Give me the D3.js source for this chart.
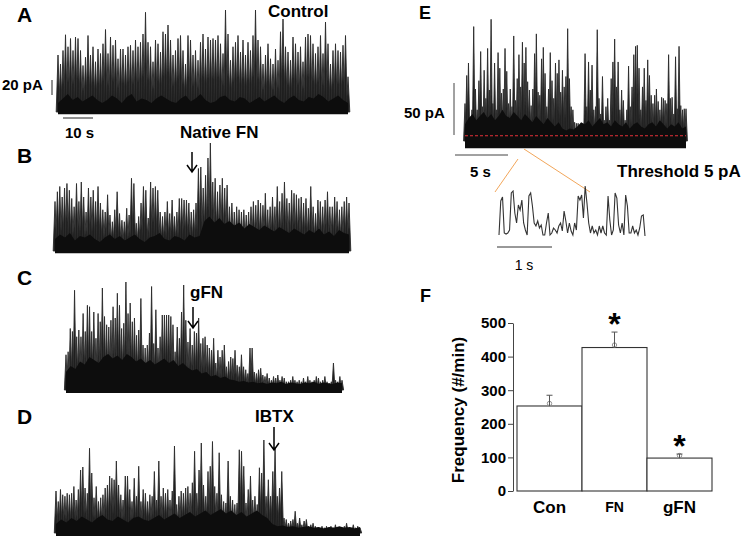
<!DOCTYPE html>
<html>
<head>
<meta charset="utf-8">
<script src="https://cdn.jsdelivr.net/npm/d3@7"></script>
<style>
  body { margin: 0; background: #fff; }
  text { font-family: "Liberation Sans", Arial, sans-serif; font-weight: bold; fill: #000; }
</style>
</head>
<body>
<svg id="fig" width="747" height="542"></svg>
<script>
// Spike amplitudes (pA), left to right
const aSpikes = [76, 64, 82, 103, 87, 98, 82, 100, 98, 82, 62, 73, 102, 76, 87, 67, 84, 78, 91, 110, 78, 100, 89, 96, 71, 84, 84, 76, 87, 89, 82, 96, 87, 93, 104, 133, 93, 87, 67, 96, 91, 80, 107, 104, 116, 96, 76, 82, 98, 102, 82, 64, 102, 96, 76, 82, 69, 93, 104, 84, 100, 96, 98, 96, 102, 91, 78, 136, 104, 69, 87, 93, 102, 80, 96, 76, 93, 82, 102, 136, 96, 87, 64, 76, 91, 71, 64, 84, 69, 107, 124, 87, 80, 69, 100, 91, 80, 87, 67, 100, 104, 102, 91, 78, 87, 102, 78, 120, 91, 64, 82, 91, 82, 80, 89, 102, 47];
const bSpikes = [66, 79, 86, 72, 84, 90, 81, 70, 59, 90, 66, 92, 72, 52, 84, 72, 81, 66, 86, 64, 55, 52, 75, 48, 39, 55, 79, 50, 41, 39, 57, 48, 97, 90, 37, 46, 64, 86, 81, 44, 92, 84, 86, 81, 52, 46, 52, 66, 50, 68, 46, 52, 70, 70, 68, 68, 64, 52, 55, 64, 110, 112, 84, 101, 124, 144, 92, 97, 79, 88, 97, 84, 88, 59, 64, 52, 59, 55, 52, 55, 48, 52, 59, 66, 61, 68, 64, 61, 77, 55, 59, 72, 59, 86, 66, 77, 92, 70, 64, 81, 77, 75, 70, 72, 64, 70, 57, 86, 59, 50, 68, 66, 59, 68, 79, 59, 59, 72, 66, 55, 59, 66, 72, 64];
const cSpikes = [47, 51, 82, 78, 133, 71, 80, 71, 102, 78, 113, 111, 78, 104, 69, 102, 91, 136, 98, 87, 84, 93, 111, 96, 129, 113, 82, 89, 144, 102, 116, 91, 96, 73, 80, 122, 60, 56, 60, 76, 138, 62, 107, 56, 71, 100, 100, 100, 100, 98, 87, 51, 84, 69, 104, 140, 93, 64, 82, 60, 78, 76, 96, 62, 69, 71, 60, 56, 53, 69, 36, 53, 44, 53, 60, 31, 38, 44, 42, 53, 33, 31, 47, 31, 27, 22, 56, 56, 24, 22, 27, 29, 20, 18, 22, 16, 13, 18, 16, 20, 13, 18, 16, 11, 11, 13, 18, 13, 11, 13, 11, 16, 11, 18, 13, 11, 13, 18, 16, 11, 13, 18, 11, 9, 11, 36, 13, 11, 18, 13];
const dSpikes = [56, 42, 58, 51, 49, 53, 51, 53, 62, 44, 58, 84, 88, 60, 53, 113, 80, 47, 62, 42, 47, 51, 60, 64, 76, 73, 71, 96, 64, 51, 44, 76, 76, 58, 42, 73, 49, 89, 42, 58, 53, 42, 51, 49, 82, 44, 96, 49, 60, 53, 58, 44, 56, 116, 38, 49, 56, 53, 60, 62, 53, 67, 109, 53, 84, 120, 64, 49, 82, 89, 122, 62, 53, 107, 51, 42, 40, 96, 49, 44, 38, 40, 111, 109, 89, 40, 58, 76, 44, 49, 38, 87, 80, 124, 49, 71, 49, 82, 113, 49, 60, 82, 20, 18, 13, 16, 18, 29, 13, 20, 11, 16, 18, 9, 11, 13, 9, 7, 4, 9, 7, 9, 7, 9, 7, 11, 7, 4, 7, 9, 13, 4, 7, 11, 7, 9, 7];
const eSpikes = [36, 63, 75, 20, 30, 110, 50, 30, 58, 86, 33, 68, 41, 89, 49, 117, 36, 75, 30, 85, 70, 46, 50, 89, 67, 36, 50, 33, 101, 39, 60, 83, 52, 95, 75, 90, 57, 49, 34, 50, 84, 103, 47, 44, 79, 90, 65, 33, 50, 85, 58, 41, 75, 65, 78, 47, 68, 52, 62, 108, 60, 33, 30, 18, 17, 17, 15, 15, 14, 84, 33, 76, 49, 73, 30, 33, 107, 41, 26, 62, 20, 33, 41, 20, 60, 76, 98, 52, 76, 30, 49, 39, 20, 30, 72, 33, 52, 83, 91, 92, 70, 30, 52, 70, 39, 78, 63, 44, 36, 44, 50, 38, 30, 42, 41, 39, 36, 83, 41, 42, 26, 81, 31, 91, 34, 30, 31, 31];

// Height (pA) of the dense noise band along each trace
const aBand = [12, 18, 24, 16, 20, 14, 18, 22, 16, 12, 16, 22, 18, 12, 20, 24, 14, 18, 16, 12, 18, 22, 18, 14, 12, 18, 22, 14, 18, 24, 16, 12, 14, 20, 22, 16, 14, 20, 18, 12, 16, 20, 14, 18, 22, 16, 12, 18, 22, 16, 14, 20, 18, 24, 20, 14, 18, 22, 16, 12];
const bBand = [16, 22, 18, 24, 14, 20, 18, 22, 16, 12, 18, 22, 16, 20, 14, 18, 22, 16, 12, 18, 20, 24, 16, 14, 20, 18, 14, 22, 18, 20, 40, 46, 38, 44, 36, 40, 34, 38, 30, 36, 32, 28, 34, 30, 26, 32, 28, 24, 30, 26, 22, 28, 24, 30, 22, 26, 20, 28, 24, 22];
const cBand = [24, 32, 28, 38, 34, 44, 40, 36, 44, 48, 42, 46, 40, 48, 44, 38, 42, 36, 40, 34, 38, 42, 36, 40, 32, 36, 30, 26, 28, 22, 24, 18, 20, 16, 18, 14, 13, 11, 12, 10, 11, 9, 10, 8, 10, 9, 11, 8, 10, 9, 8, 10, 9, 11, 8, 10, 9, 8, 10, 9];
const dBand = [12, 18, 14, 20, 16, 22, 18, 14, 20, 24, 18, 16, 22, 18, 14, 20, 22, 18, 16, 20, 24, 18, 22, 26, 20, 24, 28, 22, 26, 30, 24, 28, 32, 26, 30, 24, 28, 22, 26, 30, 24, 20, 12, 9, 10, 8, 9, 7, 8, 9, 7, 8, 6, 8, 7, 9, 7, 8, 6, 8];
const eBand = [16, 22, 26, 20, 24, 28, 22, 26, 20, 24, 30, 24, 22, 28, 24, 20, 26, 22, 18, 24, 20, 16, 22, 18, 14, 18, 12, 10, 12, 11, 14, 18, 16, 20, 14, 18, 22, 16, 18, 14, 20, 16, 14, 18, 12, 16, 18, 14, 12, 16, 18, 14, 20, 16, 12, 16, 14, 18, 12, 14];

// Expanded 1 s segment of trace E (pA)
const inset = [2, 36, 40, 4, 3, 4, 7, 44, 46, 24, 14, 32, 27, 37, 14, 7, 2, 41, 44, 31, 14, 11, 16, 9, 12, 2, 2, 14, 24, 2, 4, 9, 7, 4, 11, 14, 6, 26, 16, 4, 14, 6, 2, 14, 7, 41, 37, 42, 19, 51, 34, 14, 4, 11, 4, 7, 2, 11, 4, 11, 4, 2, 41, 17, 2, 7, 44, 39, 12, 4, 14, 2, 42, 31, 4, 4, 11, 4, 7, 2, 9, 21, 22, 1];

// Panel F
const groups = ["Con", "FN", "gFN"];
const freq = [253, 427, 98];
const sem = [32, 46, 12];
const marks = ["", "*", "*"];
const freqTicks = [0, 100, 200, 300, 400, 500];

const svg = d3.select("#fig");

function drawTrace(spikes, band, cfg) {
    const g = svg.append("g");
    const xs = d3.scaleLinear().domain([0, spikes.length - 1]).range([cfg.x0, cfg.x1]);
    const xb = d3.scaleLinear().domain([0, band.length - 1]).range([cfg.x0, cfg.x1]);
    const y = d3.scaleLinear().domain([0, cfg.pA]).range([cfg.base, cfg.base - cfg.px]);

    g.selectAll("path.spike")
        .data(spikes)
        .join("path")
        .attr("class", "spike")
        .attr("d", (d, i) => `M${xs(i) - cfg.w},${y(0)}L${xs(i)},${y(d)}L${xs(i) + cfg.w},${y(0)}Z`)
        .attr("fill", "#1e1e1e")
        .attr("stroke", "#2a2a2a")
        .attr("stroke-width", 0.9);

    const area = d3.area()
        .x((d, i) => xb(i))
        .y0(y(cfg.floor))
        .y1(d => y(d));

    g.append("path").datum(band).attr("d", area).attr("fill", "#0d0d0d");
    return y;
}

function arrow(x, y1, y2) {
    const p = d3.path();
    p.moveTo(x, y1); p.lineTo(x, y2);
    p.moveTo(x - 5, y2 - 7); p.lineTo(x, y2); p.lineTo(x + 5, y2 - 7);
    svg.append("path").attr("d", p.toString())
        .attr("fill", "none").attr("stroke", "#000").attr("stroke-width", 1.5);
}

function label(txt, x, y, size, anchor, weight) {
    return svg.append("text").attr("x", x).attr("y", y)
        .attr("font-size", size).attr("text-anchor", anchor || "start")
        .style("font-weight", weight || "bold").text(txt);
}

function bar(x1, y1, x2, y2, color) {
    svg.append("line").attr("x1", x1).attr("y1", y1).attr("x2", x2).attr("y2", y2)
        .attr("stroke", color || "#222").attr("stroke-width", 1);
}

// ---- A ----
drawTrace(aSpikes, aBand, { x0: 58, x1: 348, base: 112, pA: 100, px: 75, floor: -3, w: 1.8 });
label("A", 17, 22, 21);
label("Control", 268, 17, 17);
label("20 pA", 2, 90, 15);
bar(52, 80, 52, 95);
bar(63, 118, 93, 118);
label("10 s", 65, 138, 15);

// ---- B ----
drawTrace(bSpikes, bBand, { x0: 55, x1: 349, base: 251, pA: 100, px: 75, floor: -3, w: 1.8 });
label("B", 17, 163, 21);
label("Native FN", 180, 138, 17);
arrow(192, 152, 172);

// ---- C ----
drawTrace(cSpikes, cBand, { x0: 66, x1: 342, base: 390, pA: 100, px: 75, floor: -4, w: 1.6 });
label("C", 17, 285, 21);
label("gFN", 190, 298, 17);
arrow(193, 307, 328);

// ---- D ----
drawTrace(dSpikes, dBand, { x0: 56, x1: 360, base: 533, pA: 100, px: 75, floor: -4, w: 1.7 });
label("D", 17, 424, 21);
label("IBTX", 255, 422, 17);
arrow(274, 427, 450);

// ---- E ----
const yE = drawTrace(eSpikes, eBand, { x0: 465, x1: 686, base: 141, pA: 50, px: 52, floor: -7, w: 1.4 });
svg.append("line")
    .attr("x1", 465).attr("x2", 686).attr("y1", yE(5)).attr("y2", yE(5))
    .attr("stroke", "#e8303a").attr("stroke-width", 1.1).attr("stroke-dasharray", "3,2");
label("E", 419, 19, 18);
label("50 pA", 404, 118, 15);
bar(454, 83, 454, 135, "#444");
bar(455, 155, 508, 155, "#444");
label("5 s", 470, 177, 15);
label("Threshold 5 pA", 617, 177, 17);
bar(518, 159, 495, 192, "#f2a65a");
bar(524, 149, 590, 192, "#f2a65a");

const xIn = d3.scaleLinear().domain([0, inset.length - 1]).range([499, 645]);
const yIn = d3.scaleLinear().domain([0, 50]).range([237, 187]);
svg.append("path").datum(inset)
    .attr("d", d3.line().x((d, i) => xIn(i)).y(d => yIn(d)))
    .attr("fill", "none").attr("stroke", "#333").attr("stroke-width", 1.1);
bar(497, 247, 552, 247, "#333");
label("1 s", 524, 270, 14, "middle", "normal");

// ---- F ----
label("F", 420, 302, 18);
const xF = d3.scaleBand().domain(groups).range([517, 712]).padding(0);
const yF = d3.scaleLinear().domain([0, 500]).range([491, 323]);

const axis = svg.append("g").attr("transform", "translate(513,0)")
    .call(d3.axisLeft(yF).tickValues(freqTicks).tickSize(5).tickSizeOuter(0).tickPadding(2));
axis.select(".domain").attr("stroke", "#444");
axis.selectAll(".tick line").attr("stroke", "#444");
axis.selectAll(".tick text")
    .attr("font-size", 15).style("font-family", '"Liberation Sans", Arial, sans-serif')
    .style("font-weight", "bold").attr("fill", "#000");

svg.append("text")
    .attr("transform", "translate(464,410) rotate(-90)")
    .attr("text-anchor", "middle").attr("font-size", 17)
    .text("Frequency (#/min)");

const fg = svg.append("g");
fg.selectAll("rect").data(groups).join("rect")
    .attr("x", d => xF(d)).attr("width", xF.bandwidth())
    .attr("y", (d, i) => yF(freq[i])).attr("height", (d, i) => yF(0) - yF(freq[i]))
    .attr("fill", "#fff").attr("stroke", "#333").attr("stroke-width", 1.1);

groups.forEach((d, i) => {
    const cx = xF(d) + xF.bandwidth() / 2;
    const top = yF(freq[i] + sem[i]);
    bar(cx, yF(freq[i]), cx, top, "#555");
    bar(cx - 3, top, cx + 3, top, "#555");
    fg.append("circle").attr("cx", cx).attr("cy", yF(freq[i]) - 2.5).attr("r", 2.2)
        .attr("fill", "#fff").attr("stroke", "#777").attr("stroke-width", 0.8);
    if (marks[i]) label(marks[i], cx, top + 3, 32, "middle");
    label(d, cx, d === "FN" ? 512 : 513, d === "FN" ? 14 : 17, "middle");
});
</script>
</body>
</html>
